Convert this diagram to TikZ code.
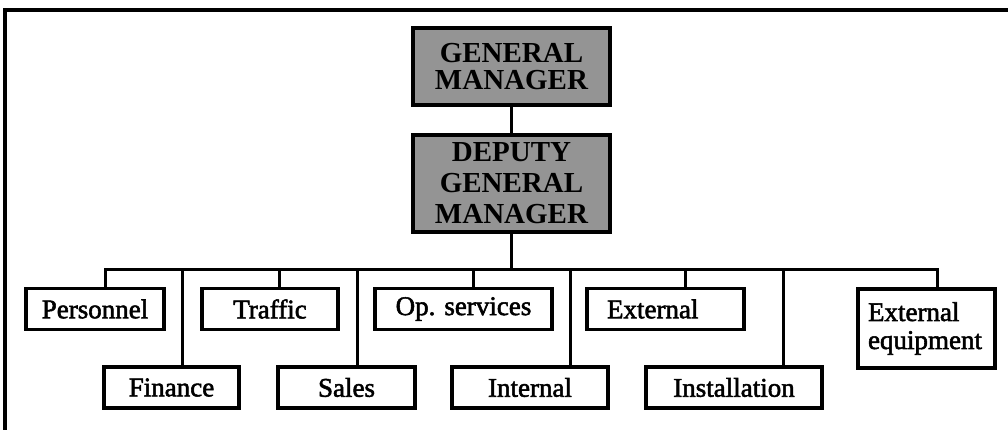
\documentclass[tikz,border=0pt]{standalone}
\usepackage{fontspec}
\setmainfont{Liberation Serif}
\newfontfamily\boxfont{Liberation Serif}[FakeBold=2]
\begin{document}
\begin{tikzpicture}[x=1pt,y=-1pt,
  box/.style={draw=black, line width=3.2pt, rectangle, inner sep=0pt,
    minimum height=41pt, font=\fontsize{27}{28}\boxfont},
  headbox/.style={draw=black, line width=3.2pt, rectangle, fill=black!42,
    minimum width=197pt, align=center, inner sep=0pt},
  link/.style={draw=black, line width=3pt},
  frame/.style={draw=black, line width=3.4pt}]
\useasboundingbox (0,0) rectangle (1008,430);
% frame
\coordinate (fBL) at (5,432);
\coordinate (fTL) at (5,10);
\coordinate (fTR) at (1010,10);
\draw[frame] (fBL) -- (fTL) -- (fTR);
% heads
\node[headbox, minimum height=77pt, font=\fontsize{29}{27}\selectfont\bfseries] (gm) at (511.5,66.5) {GENERAL\\MANAGER};
\node[headbox, minimum height=97pt, font=\fontsize{29}{31}\selectfont\bfseries] (dgm) at (511.5,183.5) {DEPUTY\\GENERAL\\MANAGER};
% top row
\node[box, minimum width=138pt] (pers) at (95,309) {Personnel};
\node[box, minimum width=136pt] (traf) at (270,309) {Traffic};
\node[box, minimum width=177pt] (ops) at (463.5,309) {Op. services};
\node[box, minimum width=157pt, text width=117pt, align=left] (ext) at (665.5,309) {External};
\node[box, minimum width=137pt, minimum height=79pt, text width=117pt, align=left] (exteq) at (926.5,328.5) {External\\equipment};
% bottom row
\node[box, minimum width=135pt] (fin) at (171.5,387.5) {Finance};
\node[box, minimum width=137pt] (sales) at (346.5,387.5) {Sales};
\node[box, minimum width=156pt] (int) at (530,387.5) {Internal};
\node[box, minimum width=176pt] (inst) at (734,387.5) {Installation};
% bus
\coordinate (busL) at (105,269);
\coordinate (busR) at (937,269);
\coordinate (bFin) at (182,269);
\coordinate (bTraf) at (279,269);
\coordinate (bSales) at (357,269);
\coordinate (bOps) at (473,269);
\coordinate (bInt) at (570,269);
\coordinate (bExt) at (685,269);
\coordinate (bInst) at (783,269);
\draw[link] (gm.south) -- (dgm.north);
\draw[link] (dgm.south) -- (dgm.south |- busL);
\draw[link] (busL |- pers.north) -- (busL) -- (busR) -- (busR |- exteq.north);
\draw[link] (bFin) -- (bFin |- fin.north);
\draw[link] (bTraf) -- (bTraf |- traf.north);
\draw[link] (bSales) -- (bSales |- sales.north);
\draw[link] (bOps) -- (bOps |- ops.north);
\draw[link] (bInt) -- (bInt |- int.north);
\draw[link] (bExt) -- (bExt |- ext.north);
\draw[link] (bInst) -- (bInst |- inst.north);
\end{tikzpicture}
\end{document}
